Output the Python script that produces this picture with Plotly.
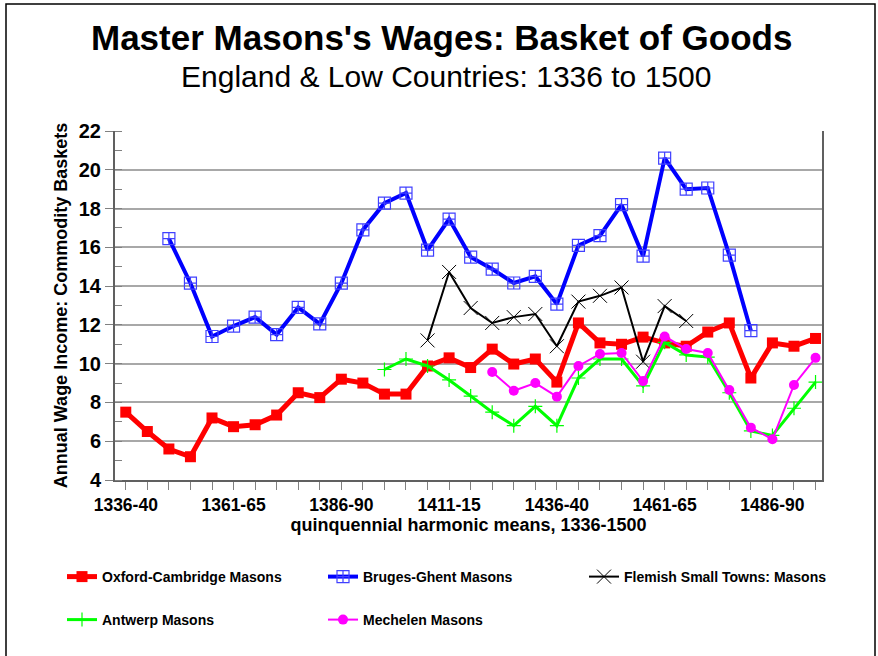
import plotly.graph_objects as go

categories = [f"{y}-{str(y + 4)[-2:]}" if y + 4 < 1500 else f"{y}-1500" for y in range(1336, 1501, 5)]

oxford = [7.5, 6.5, 5.6, 5.2, 7.2, 6.75, 6.85, 7.35, 8.5, 8.25,
          9.2, 9.0, 8.43, 8.43, 9.88, 10.3, 9.8, 10.75, 9.98, 10.24,
          9.05, 12.1, 11.07, 11.0, 11.37, 11.07, 10.9, 11.63, 12.1, 9.26,
          11.07, 10.9, 11.3]
bruges = [None, None, 16.45, 14.15, 11.4, 11.94, 12.4, 11.5, 12.9, 12.05,
          14.15, 16.9, 18.28, 18.8, 15.86, 17.46, 15.5, 14.88, 14.16, 14.5,
          13.07, 16.1, 16.6, 18.2, 15.55, 20.6, 19.0, 19.06, 15.6, 11.7,
          None, None, None]
flemish = [None] * 14 + [11.2, 14.73, 12.87, 12.1, 12.4, 12.56, 10.9, 13.2, 13.5, 13.93,
                         10.1, 12.97, 12.2] + [None] * 6
antwerp = [None] * 12 + [9.7, 10.24, 9.88, 9.16, 8.33, 7.5, 6.8, 7.8, 6.8, 9.26,
                         10.24, 10.24, 8.85, 11.1, 10.45, 10.34, 8.5, 6.53, 6.3, 7.7, 9.05]
mechelen = [None] * 17 + [9.57, 8.6, 9.0, 8.3, 9.88, 10.5, 10.55, 9.1, 11.4, 10.76,
                          10.55, 8.64, 6.7, 6.1, 8.9, 10.3]

tick_text = [c if i % 5 == 0 else "" for i, c in enumerate(categories)]

FONT = "Liberation Sans, Arial, sans-serif"

fig = go.Figure()
fig.add_trace(go.Scatter(x=categories, y=oxford, name="Oxford-Cambridge Masons", mode="lines+markers",
                         line=dict(color="#ff0000", width=5),
                         marker=dict(symbol="square", size=11, color="#ff0000"),
                         legend="legend"))
fig.add_trace(go.Scatter(x=categories, y=bruges, name="Bruges-Ghent Masons", mode="lines+markers",
                         line=dict(color="#0000ff", width=4),
                         marker=dict(symbol="square-cross-open", size=12, color="#4040ff",
                                     line=dict(width=1.2, color="#4040ff")),
                         legend="legend"))
fig.add_trace(go.Scatter(x=categories, y=flemish, name="Flemish Small Towns: Masons", mode="lines+markers",
                         line=dict(color="#000000", width=2),
                         marker=dict(symbol="x-thin-open", size=14, color="#000000",
                                     line=dict(width=1, color="#000000")),
                         legend="legend"))
fig.add_trace(go.Scatter(x=categories, y=antwerp, name="Antwerp Masons", mode="lines+markers",
                         line=dict(color="#00ff00", width=3),
                         marker=dict(symbol="cross-thin-open", size=10, color="#00ff00",
                                     line=dict(width=1.2, color="#00c000")),
                         legend="legend2"))
fig.add_trace(go.Scatter(x=categories, y=mechelen, name="Mechelen Masons", mode="lines+markers",
                         line=dict(color="#ff00ff", width=2),
                         marker=dict(symbol="circle", size=10, color="#ff00ff"),
                         legend="legend2"))

L, R, T, B = 115, 822, 131, 480
W, H = 878, 656
pw, ph = R - L, B - T

def px(x):
    return (x - L) / pw

def py(y):
    return (B - y) / ph

legend_font = dict(size=14, family=FONT, color="black", weight="bold")

fig.update_layout(
    width=W, height=H,
    margin=dict(l=L, r=W - R, t=T, b=H - B),
    paper_bgcolor="white", plot_bgcolor="white",
    font=dict(family=FONT, color="black"),
    showlegend=True,
    legend=dict(orientation="h", x=px(62), y=py(561), xanchor="left", yanchor="top",
                entrywidth=216, entrywidthmode="pixels",
                font=legend_font, bgcolor="rgba(0,0,0,0)"),
    legend2=dict(orientation="h", x=px(62), y=py(604), xanchor="left", yanchor="top",
                 entrywidth=216, entrywidthmode="pixels",
                 font=legend_font, bgcolor="rgba(0,0,0,0)"),
    annotations=[
        dict(text="<b>Master Masons's Wages: Basket of Goods</b>", x=px(441), y=py(37),
             xref="paper", yref="paper", showarrow=False, xanchor="center", yanchor="middle",
             font=dict(size=35, family=FONT, color="black")),
        dict(text="England & Low Countries: 1336 to 1500", x=px(446), y=py(76),
             xref="paper", yref="paper", showarrow=False, xanchor="center", yanchor="middle",
             font=dict(size=30, family=FONT, color="black")),
    ],
    shapes=[
        dict(type="rect", xref="paper", yref="paper", x0=px(6), x1=px(875), y0=py(700), y1=py(4),
             line=dict(color="black", width=1.5), fillcolor="rgba(0,0,0,0)", layer="below"),
    ],
)

fig.update_xaxes(
    type="category", range=[-0.5, len(categories) - 0.7],
    tickmode="array", tickvals=categories, ticktext=tick_text,
    ticks="outside", ticklen=8, tickcolor="#808080", tickwidth=1,
    showline=True, linecolor="#606060", linewidth=2,
    showgrid=False, zeroline=False,
    tickfont=dict(size=17.5, family=FONT, color="black", weight="bold"),
    title=dict(text="<b>quinquennial harmonic means, 1336-1500</b>", standoff=0,
               font=dict(size=18, family=FONT, color="black")),
)
fig.update_yaxes(
    range=[4, 22], dtick=2, tick0=0,
    ticks="outside", ticklen=8, tickcolor="#808080", tickwidth=1,
    showline=True, linecolor="#606060", linewidth=2, mirror=True,
    showgrid=True, gridcolor="#a8a8a8", gridwidth=1.5, zeroline=False,
    minor=dict(dtick=1, ticks="inside", ticklen=7, tickcolor="#808080", showgrid=False),
    tickfont=dict(size=20, family=FONT, color="black", weight="bold"),
    title=dict(text="<b>Annual Wage Income: Commodity Baskets</b>", standoff=6,
               font=dict(size=18, family=FONT, color="black")),
)

fig.write_html("out.html", config={"displayModeBar": False},
               post_script="document.body.style.margin='0';")
